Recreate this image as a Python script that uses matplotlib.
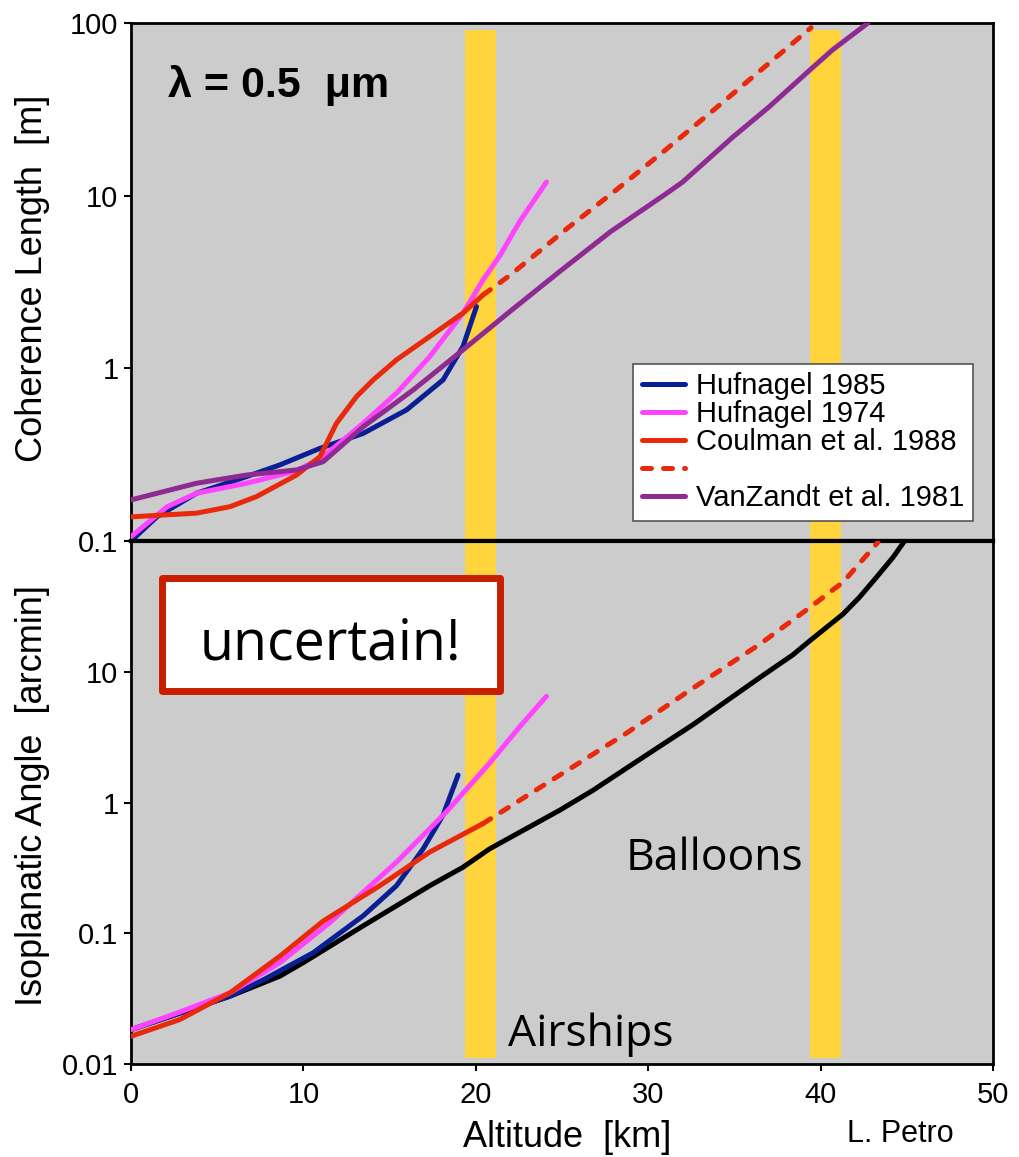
import matplotlib
matplotlib.use("Agg")
import matplotlib.pyplot as plt
from matplotlib.patches import Rectangle
from matplotlib.ticker import FixedLocator, NullLocator

plt.rcParams['font.family'] = ['Liberation Sans', 'DejaVu Sans']

# --- coherence length (top panel), altitude in km, r0 in m
huf85_alt = [0, 1.5, 3.8, 6.7, 8.64, 10.96, 13.47, 15.98, 18.1, 19.26, 20.04]
huf85_r0 = [0.1, 0.138, 0.189, 0.236, 0.276, 0.344, 0.42, 0.574, 0.857, 1.34, 2.28]

huf74_alt = [0, 2.1, 3.8, 6.7, 9.6, 11.15, 13.47, 15.4, 17.33, 19.26, 20.42, 21.4, 22.55, 24.1]
huf74_r0 = [0.106, 0.158, 0.189, 0.216, 0.255, 0.308, 0.481, 0.718, 1.17, 2.09, 3.25, 4.5, 7.1, 12.0]

coul_alt = [0, 3.8, 5.74, 7.29, 9.6, 10.96, 11.92, 13.08, 14.05, 15.4, 17.33, 19.26, 20.42]
coul_r0 = [0.138, 0.145, 0.158, 0.181, 0.241, 0.308, 0.481, 0.686, 0.857, 1.12, 1.53, 2.09, 2.66]
coul_ext_alt = [20.42, 22.0, 25.3, 28.2, 31.0, 34.0, 36.9, 39.45]
coul_ext_r0 = [2.66, 3.47, 6.46, 10.9, 18.4, 32.6, 57.3, 94]

vz_alt = [0, 3.8, 6.7, 9.6, 11.15, 13.47, 16.37, 19.26, 21.97, 24.9, 27.8,
          31.0, 32.0, 34.9, 37.0, 39.2, 40.7, 42.75]
vz_r0 = [0.173, 0.216, 0.241, 0.258, 0.288, 0.459, 0.75, 1.28, 2.13, 3.66, 6.17,
         10.2, 12.0, 21.8, 32.6, 51.5, 70, 100]

# --- isoplanatic angle (bottom panel), arcmin
iso_alt = [0, 2.84, 5.74, 8.64, 9.99, 13.47, 17.33, 19.26, 20.8, 24.87, 26.8, 28.74,
           30.67, 32.6, 34.53, 36.46, 38.4, 39.36, 41.3, 42.26, 43.23, 44.2, 44.87]
iso_theta = [0.0183, 0.0245, 0.033, 0.047, 0.0596, 0.114, 0.231, 0.32, 0.442, 0.873, 1.24, 1.83,
             2.69, 3.94, 5.96, 9.0, 13.5, 17.2, 27.6, 37.2, 52.6, 75, 100]

huf85_th_alt = [0, 2.84, 5.74, 7.67, 10.57, 13.47, 15.4, 16.95, 18.1, 18.97]
huf85_th = [0.0183, 0.0245, 0.033, 0.044, 0.071, 0.136, 0.231, 0.443, 0.80, 1.62]

huf74_th_alt = [0, 2.84, 5.74, 8.64, 11.54, 13.47, 15.4, 18.3, 20.8, 22.55, 24.1]
huf74_th = [0.0183, 0.025, 0.035, 0.0596, 0.121, 0.206, 0.35, 0.85, 2.0, 3.8, 6.5]

coul_th_alt = [0, 2.84, 5.74, 8.64, 11.15, 14.43, 17.33, 20.42]
coul_th = [0.0163, 0.0219, 0.035, 0.0668, 0.124, 0.231, 0.418, 0.69]
coul_th_ext_alt = [20.42, 22.55, 24.87, 28.74, 32.6, 36.46, 39.36, 41.3, 43.33]
coul_th_ext = [0.69, 1.04, 1.62, 3.39, 7.5, 16.2, 30.9, 48.4, 98]

bands = [(19.4, 21.2), (39.4, 41.2)]  # airship / balloon altitudes

blue = '#0a1f94'
magenta = '#ff44ff'
red = '#e8290b'
purple = '#8e2a92'
yellow = '#ffd43c'
grey = '#cccccc'

W, H = 1020, 1157
fig = plt.figure(figsize=(W / 100, H / 100), dpi=100)
ax1 = fig.add_axes([131 / W, (H - 541) / H, 862 / W, 518 / H])
ax2 = fig.add_axes([131 / W, (H - 1064) / H, 862 / W, 523 / H])

lw = 3.6
kw = dict(lw=lw, solid_capstyle='round', solid_joinstyle='round',
          dash_capstyle='round', zorder=3)

for lo, hi in bands:
    ax1.axvspan(lo, hi, ymin=0, ymax=0.9865, color=yellow, lw=0, zorder=1)
    ax2.axvspan(lo, hi, ymin=0.0115, ymax=1, color=yellow, lw=0, zorder=1)

h1, = ax1.plot(huf85_alt, huf85_r0, color=blue, **kw)
h2, = ax1.plot(huf74_alt, huf74_r0, color=magenta, **kw)
h3, = ax1.plot(coul_alt, coul_r0, color=red, **kw)
h4, = ax1.plot(coul_ext_alt, coul_ext_r0, color=red, dashes=(1.8, 2.4), **kw)
h5, = ax1.plot(vz_alt, vz_r0, color=purple, **kw)

ax2.plot(iso_alt, iso_theta, color='black', **kw)
ax2.plot(huf85_th_alt, huf85_th, color=blue, **kw)
ax2.plot(huf74_th_alt, huf74_th, color=magenta, **kw)
ax2.plot(coul_th_alt, coul_th, color=red, **kw)
ax2.plot(coul_th_ext_alt, coul_th_ext, color=red, dashes=(1.8, 2.4), **kw)

for ax in (ax1, ax2):
    ax.set_facecolor(grey)
    ax.set_yscale('log')
    ax.set_xlim(0, 50)
    ax.yaxis.set_minor_locator(NullLocator())
    for s in ax.spines.values():
        s.set_linewidth(2)
        s.set_color('black')
    ax.tick_params(axis='both', direction='out', length=5, width=1.5,
                   labelsize=21, pad=4)

ax1.spines['bottom'].set_linewidth(3)
ax2.spines['top'].set_linewidth(3)

ax1.set_ylim(0.1, 100)
ax1.yaxis.set_major_locator(FixedLocator([0.1, 1, 10, 100]))
ax1.set_yticklabels(['0.1', '1', '10', '100'])
ax1.set_xticks([])

ax2.set_ylim(0.01, 100)
ax2.yaxis.set_major_locator(FixedLocator([0.01, 0.1, 1, 10]))
ax2.set_yticklabels(['0.01', '0.1', '1', '10'])
ax2.set_xticks([0, 10, 20, 30, 40, 50])
ax2.tick_params(axis='x', pad=7)

leg = ax1.legend([h1, h2, h3, h4, h5],
                 ['Hufnagel 1985', 'Hufnagel 1974', 'Coulman et al. 1988', ' ',
                  'VanZandt et al. 1981'],
                 loc='lower right', bbox_to_anchor=(0.977, 0.0386), borderaxespad=0,
                 fontsize=21, fancybox=False, framealpha=1, edgecolor='#555555',
                 handlelength=1.45, handletextpad=0.4, labelspacing=0.0,
                 borderpad=0.3)
leg.get_frame().set_linewidth(1.2)
leg.set_zorder(5)

ax1.text(0.043, 0.857, 'λ = 0.5  μm', transform=ax1.transAxes, fontsize=31,
         fontweight='bold', ha='left', va='baseline')

box = Rectangle((0.0354, 0.714), 0.3921, 0.216, transform=ax2.transAxes,
                facecolor='white', edgecolor='#c81e00', lw=5, joinstyle='round',
                zorder=4)
ax2.add_patch(box)
ax2.text(0.231, 0.7725, 'uncertain!', transform=ax2.transAxes, fontsize=40,
         family='Open Sans', ha='center', va='baseline', zorder=5)
ax2.text(0.574, 0.371, 'Balloons', transform=ax2.transAxes, fontsize=32,
         family='Open Sans', ha='left', va='baseline', zorder=4)
ax2.text(0.437, 0.034, 'Airships', transform=ax2.transAxes, fontsize=32,
         family='Open Sans', ha='left', va='baseline', zorder=4)

fig.text(33 / W, (H - 278.5) / H, 'Coherence Length  [m]', rotation=90,
         fontsize=26, ha='center', va='center')
fig.text(33 / W, (H - 795) / H, 'Isoplanatic Angle  [arcmin]', rotation=90,
         fontsize=26, ha='center', va='center')
fig.text(567 / W, 10 / H, 'Altitude  [km]', fontsize=26, ha='center', va='baseline')
fig.text(847 / W, 15 / H, 'L. Petro', fontsize=22, ha='left', va='baseline')

fig.savefig('out.png', dpi=100, facecolor='white')
